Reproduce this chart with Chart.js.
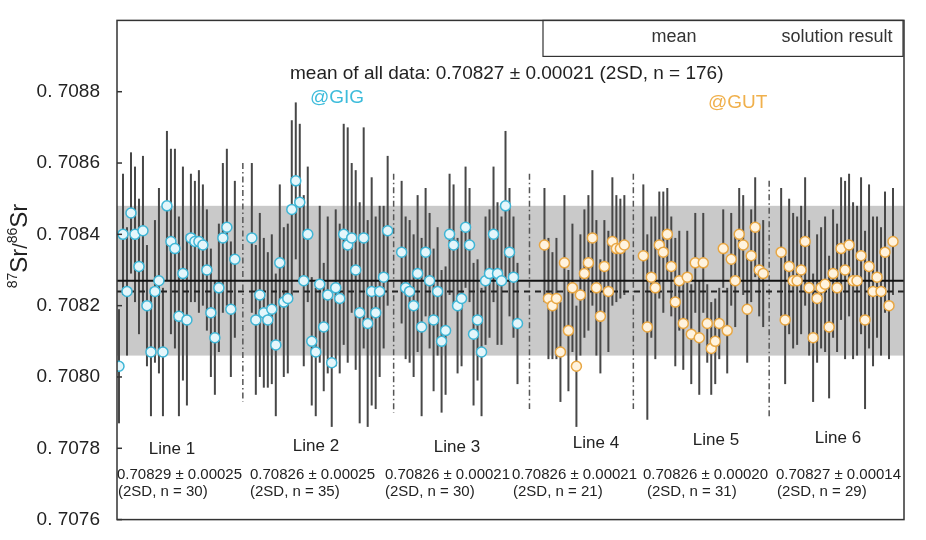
<!DOCTYPE html>
<html>
<head>
<meta charset="utf-8">
<script src="https://cdn.jsdelivr.net/npm/chart.js@4.4.0/dist/chart.umd.min.js"></script>
<style>
  body { margin: 0; background: #fff; }
  canvas { display: block; }
</style>
</head>
<body>
<canvas id="myChart" width="926" height="540"></canvas>
<script>
// 87Sr/86Sr per spot, six lines, with 2SE (in units of 1e-5)
const lineNames = ["Line 1", "Line 2", "Line 3", "Line 4", "Line 5", "Line 6"];
const lineStats = ["0.70829 \u00b1 0.00025", "0.70826 \u00b1 0.00025", "0.70826 \u00b1 0.00021",
                   "0.70826 \u00b1 0.00021", "0.70826 \u00b1 0.00020", "0.70827 \u00b1 0.00014"];
const lineCounts = ["(2SD, n = 30)", "(2SD, n = 35)", "(2SD, n = 30)",
                    "(2SD, n = 21)", "(2SD, n = 31)", "(2SD, n = 29)"];
const lineLab = ["GIG", "GIG", "GIG", "GUT", "GUT", "GUT"];
// analysis sequence index of the first spot of each line
const lineStart = [0.5, 33.75, 71.25, 107, 131.75, 166.25];
// dash-dot separators between lines (sequence index, top and bottom value)
const sepX = [31.5, 69.25, 103.25, 129.25, 163.25];
const sepTop = [0.70860, 0.70857, 0.70857, 0.70857, 0.70855];
const sepBottom = [0.70793, 0.70790, 0.70791, 0.70791, 0.70789];

const line1Val = [0.70803,0.70840,0.70824,0.70846,0.70840,0.70831,0.70841,0.70820,0.70807,0.70824,
                  0.70827,0.70807,0.70848,0.70838,0.70836,0.70817,0.70829,0.70816,0.70839,0.70838,
                  0.70838,0.70837,0.70830,0.70818,0.70811,0.70825,0.70839,0.70842,0.70819,0.70833];
const line1Err = [16,17,18,17,19,19,21,17,18,20,26,18,21,26,28,28,30,24,18,17,20,17,17,18,16,18,21,22,19,22];

const line2Val = [0.70839,0.70816,0.70823,0.70818,0.70816,0.70819,0.70809,0.70832,0.70821,0.70822,
                  0.70847,0.70855,0.70849,0.70827,0.70840,0.70810,0.70807,0.70826,0.70814,0.70823,
                  0.70804,0.70825,0.70822,0.70840,0.70837,0.70839,0.70830,0.70818,0.70839,0.70815,
                  0.70824,0.70818,0.70824,0.70828,0.70841];
const line2Err = [21,21,23,21,19,21,20,22,21,21,25,22,22,24,19,18,18,22,18,22,18,22,21,31,33,21,28,31,31,29,32,27,24,20,21];

const line3Val = [0.70835,0.70825,0.70824,0.70820,0.70829,0.70814,0.70835,0.70827,0.70816,0.70824,
                  0.70810,0.70813,0.70840,0.70837,0.70820,0.70822,0.70842,0.70837,0.70812,0.70816,
                  0.70807,0.70827,0.70829,0.70840,0.70829,0.70827,0.70848,0.70835,0.70828,0.70815];
const line3Err = [20,20,20,20,22,25,18,19,20,18,20,18,17,17,19,19,17,16,20,17,18,18,18,19,20,18,21,18,17,17];

const line4Val = [0.70837,0.70822,0.70820,0.70822,0.70807,0.70832,0.70813,0.70825,0.70803,0.70823,
                  0.70829,0.70832,0.70839,0.70825,0.70817,0.70831,0.70824,0.70838,0.70836,0.70836,0.70837];
const line4Err = [16,17,15,17,14,19,17,18,17,17,18,19,19,19,16,13,17,18,15,14,14];

const line5Val = [0.70834,0.70814,0.70828,0.70825,0.70837,0.70835,0.70840,0.70831,0.70821,0.70827,
                  0.70815,0.70828,0.70812,0.70832,0.70811,0.70832,0.70815,0.70808,0.70810,0.70815,
                  0.70836,0.70813,0.70833,0.70827,0.70840,0.70837,0.70819,0.70834,0.70842,0.70830,0.70829];
const line5Err = [20,26,17,20,15,17,13,14,18,14,13,13,14,14,16,14,11,13,12,10,11,12,13,13,13,14,15,13,14,13,15];

const line6Val = [0.70835,0.70816,0.70831,0.70827,0.70827,0.70830,0.70838,0.70825,0.70811,0.70822,
                  0.70825,0.70826,0.70814,0.70829,0.70825,0.70836,0.70830,0.70837,0.70827,0.70827,
                  0.70834,0.70816,0.70831,0.70824,0.70828,0.70824,0.70835,0.70820,0.70838];
const line6Err = [18,18,19,19,18,18,18,19,18,18,17,19,20,18,18,20,25,20,22,21,22,25,23,21,17,18,17,15,15];

const meanAll = 0.70827;
const sd2All = 0.00021;
const solutionResult = 0.70824;
const yTicks = [0.7076, 0.7078, 0.7080, 0.7082, 0.7084, 0.7086, 0.7088];

const allVals = [line1Val, line2Val, line3Val, line4Val, line5Val, line6Val];
const allErrs = [line1Err, line2Err, line3Err, line4Err, line5Err, line6Err];

const FONT = "'Liberation Sans', Arial, sans-serif";
const labColors = {
  GIG: { fill: "#e4f6fb", border: "#3fb6d6" },
  GUT: { fill: "#fff3de", border: "#e8a744" }
};

const datasets = allVals.map((vals, k) => ({
  label: lineNames[k],
  data: vals.map((v, i) => ({ x: lineStart[k] + i, y: v, e: allErrs[k][i] * 1e-5 })),
  pointRadius: 5,
  pointHoverRadius: 5,
  pointBorderWidth: 1.5,
  backgroundColor: labColors[lineLab[k]].fill,
  borderColor: labColors[lineLab[k]].border,
  showLine: false
}));

const overlay = {
  id: "overlay",
  beforeDatasetsDraw(chart) {
    const { ctx, chartArea: a, scales: { x, y } } = chart;
    ctx.save();
    // 2SD band
    const yt = y.getPixelForValue(meanAll + sd2All);
    const yb = y.getPixelForValue(meanAll - sd2All);
    ctx.fillStyle = "#c9c9c9";
    ctx.fillRect(a.left, yt, a.right - a.left, yb - yt);

    // separators
    ctx.strokeStyle = "#555";
    ctx.lineWidth = 1.5;
    ctx.setLineDash([6, 3, 1.5, 3]);
    sepX.forEach((sx, i) => {
      const px = x.getPixelForValue(sx);
      ctx.beginPath();
      ctx.moveTo(px, y.getPixelForValue(sepTop[i]));
      ctx.lineTo(px, y.getPixelForValue(sepBottom[i]));
      ctx.stroke();
    });
    ctx.setLineDash([]);

    // error bars
    ctx.strokeStyle = "#474747";
    ctx.lineWidth = 2;
    chart.data.datasets.forEach(ds => {
      ds.data.forEach(p => {
        const px = x.getPixelForValue(p.x);
        ctx.beginPath();
        ctx.moveTo(px, y.getPixelForValue(p.y + p.e));
        ctx.lineTo(px, y.getPixelForValue(p.y - p.e));
        ctx.stroke();
      });
    });

    // mean of all data and solution result
    ctx.strokeStyle = "#111";
    ctx.lineWidth = 2;
    let py = y.getPixelForValue(meanAll);
    ctx.beginPath(); ctx.moveTo(a.left, py); ctx.lineTo(a.right, py); ctx.stroke();
    ctx.strokeStyle = "#222";
    ctx.setLineDash([6, 5]);
    py = y.getPixelForValue(solutionResult);
    ctx.beginPath(); ctx.moveTo(a.left, py); ctx.lineTo(a.right, py); ctx.stroke();
    ctx.restore();
  },
  afterDraw(chart) {
    const { ctx, chartArea: a, scales: { y } } = chart;
    ctx.save();
    // frame
    ctx.strokeStyle = "#333";
    ctx.lineWidth = 1.5;
    ctx.strokeRect(a.left, a.top, a.right - a.left, a.bottom - a.top);
    // inward ticks
    yTicks.forEach(v => {
      const py = y.getPixelForValue(v);
      ctx.beginPath(); ctx.moveTo(a.left, py); ctx.lineTo(a.left + 5, py); ctx.stroke();
    });

    // legend box
    ctx.lineWidth = 1.2;
    ctx.strokeRect(543, a.top, a.right - 1 - 543, 36);
    ctx.fillStyle = "#333";
    ctx.font = "18px " + FONT;
    ctx.textBaseline = "middle";
    ctx.textAlign = "center";
    ctx.fillText("mean", 674, 37);
    ctx.fillText("solution result", 837, 37);

    // overall mean text
    ctx.fillStyle = "#222";
    ctx.textAlign = "left";
    ctx.font = "19px " + FONT;
    ctx.fillText("mean of all data: 0.70827 \u00b1 0.00021 (2SD, n = 176)", 290, 74);
    ctx.font = "19px " + FONT;
    ctx.fillStyle = "#3dbcdb";
    ctx.fillText("@GIG", 310, 98);
    ctx.fillStyle = "#f0b04c";
    ctx.fillText("@GUT", 708, 103);

    // line labels and statistics
    const nameX = [172, 316, 457, 596, 716, 838];
    const nameY = [449, 446, 447, 443, 440, 438];
    const statX = [117, 250, 385, 512, 643, 776];
    const cntX = [118, 250, 385, 513, 647, 777];
    ctx.fillStyle = "#222";
    lineNames.forEach((n, i) => {
      ctx.textAlign = "center";
      ctx.font = "17px " + FONT;
      ctx.fillText(n, nameX[i], nameY[i]);
      ctx.textAlign = "left";
      ctx.font = "15px " + FONT;
      ctx.fillText(lineStats[i], statX[i], 475);
      ctx.fillText(lineCounts[i], cntX[i], 492);
    });

    // y axis title 87Sr/86Sr
    ctx.translate(27, 246);
    ctx.rotate(-Math.PI / 2);
    ctx.textAlign = "left";
    ctx.textBaseline = "alphabetic";
    const parts = [["87", 14, -10], ["Sr", 24, 0], ["/", 20, 0], ["86", 14, -10], ["Sr", 24, 0]];
    let total = 0;
    parts.forEach(p => { ctx.font = p[1] + "px " + FONT; total += ctx.measureText(p[0]).width; });
    let cx = -total / 2;
    ctx.fillStyle = "#222";
    parts.forEach(p => {
      ctx.font = p[1] + "px " + FONT;
      ctx.fillText(p[0], cx, p[2]);
      cx += ctx.measureText(p[0]).width;
    });
    ctx.restore();
  }
};

const ctx = document.getElementById("myChart");
const myChart = new Chart(ctx, {
  type: "scatter",
  data: { datasets: datasets },
  options: {
    responsive: false,
    animation: false,
    layout: { padding: { left: 0, top: 15, right: 22, bottom: 18 } },
    plugins: { legend: { display: false }, tooltip: { enabled: false } },
    scales: {
      x: { type: "linear", min: 0, max: 197, display: false },
      y: {
        type: "linear",
        min: 0.7076,
        max: 0.7090,
        afterFit(scale) { scale.width = 117; },
        afterBuildTicks(scale) {
          scale.ticks = yTicks.concat([0.7090]).map(v => ({ value: v }));
        },
        grid: { display: false },
        border: { display: false },
        ticks: {
          padding: 9,
          color: "#222",
          font: { family: FONT, size: 19 },
          callback: v => (v > 0.70885 ? "" : v.toFixed(4).replace(".", ". "))
        }
      }
    }
  },
  plugins: [overlay]
});
</script>
</body>
</html>
